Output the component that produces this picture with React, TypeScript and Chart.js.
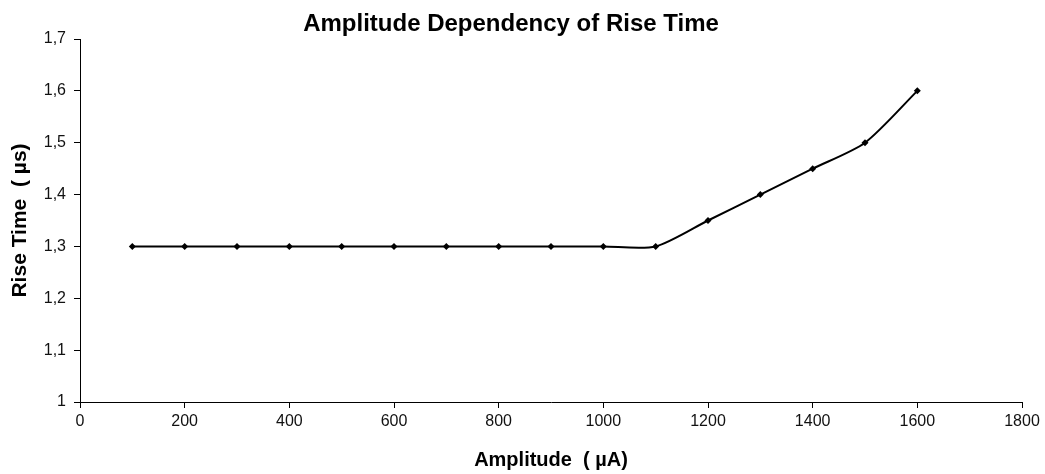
import React, { useEffect, useRef } from "react";
import { Chart, registerables } from "chart.js";

Chart.register(...registerables);

const amplitudes = [100, 200, 300, 400, 500, 600, 700, 800, 900, 1000, 1100, 1200, 1300, 1400, 1500, 1600];
const riseTimes = [1.3, 1.3, 1.3, 1.3, 1.3, 1.3, 1.3, 1.3, 1.3, 1.3, 1.3, 1.35, 1.4, 1.45, 1.5, 1.6];

const chartTitle = "Amplitude Dependency of Rise Time";
const xTitle = "Amplitude  ( µA)";
const yTitle = "Rise Time  ( µs)";

const FONT = "'Liberation Sans', Arial, sans-serif";

export default function App() {
  const ref = useRef<HTMLCanvasElement | null>(null);

  useEffect(() => {
    if (!ref.current) return;
    const chart = new Chart(ref.current, {
      type: "line",
      data: {
        datasets: [
          {
            data: amplitudes.map((a, i) => ({ x: a, y: riseTimes[i] })),
            borderColor: "#000",
            backgroundColor: "#000",
            borderWidth: 2,
            pointStyle: "rectRot",
            pointRadius: 3.5,
            pointBorderWidth: 0,
            pointBackgroundColor: "#000",
            tension: 0.25,
            fill: false,
          },
        ],
      },
      options: {
        responsive: false,
        animation: false,
        devicePixelRatio: 1,
        layout: { padding: { left: 0, right: 23, top: 0, bottom: 0 } },
        plugins: {
          legend: { display: false },
          tooltip: { enabled: false },
          title: {
            display: true,
            text: chartTitle,
            color: "#000",
            font: { family: FONT, size: 24, weight: "bold", lineHeight: 1.2 },
            padding: { top: 10.2, bottom: 0 },
          },
        },
        scales: {
          x: {
            type: "linear",
            min: 0,
            max: 1800,
            afterFit: (s: any) => {
              s.height = 72;
            },
            ticks: {
              stepSize: 200,
              color: "#111",
              padding: 4,
              maxRotation: 0,
              font: { family: FONT, size: 16 },
              callback: (v: any) => String(Math.round(Number(v))),
            },
            grid: {
              display: true,
              drawOnChartArea: false,
              drawTicks: true,
              tickLength: 6,
              color: "#000",
            },
            border: { display: true, color: "#000", width: 1 },
            title: {
              display: true,
              text: xTitle,
              color: "#000",
              font: { family: FONT, size: 20, weight: "bold", lineHeight: 1.2 },
              padding: { top: 0, bottom: 2 },
            },
          },
          y: {
            type: "linear",
            min: 1,
            max: 1.7,
            afterFit: (s: any) => {
              s.width = 80;
            },
            ticks: {
              stepSize: 0.1,
              color: "#111",
              padding: 8,
              font: { family: FONT, size: 16 },
              callback: (v: any) => String(Number(Number(v).toFixed(1))).replace(".", ","),
            },
            grid: {
              display: true,
              drawOnChartArea: false,
              drawTicks: true,
              tickLength: 6,
              color: "#000",
            },
            border: { display: true, color: "#000", width: 1 },
            title: {
              display: true,
              text: yTitle,
              color: "#000",
              font: { family: FONT, size: 21, weight: "bold", lineHeight: 1.2 },
              padding: { top: 8, bottom: 0 },
            },
          },
        },
      },
    });
    return () => chart.destroy();
  }, []);

  return (
    <div style={{ position: "absolute", left: 0, top: 0, width: 1045, height: 474, background: "#fff" }}>
      <canvas ref={ref} width={1045} height={474} />
    </div>
  );
}
